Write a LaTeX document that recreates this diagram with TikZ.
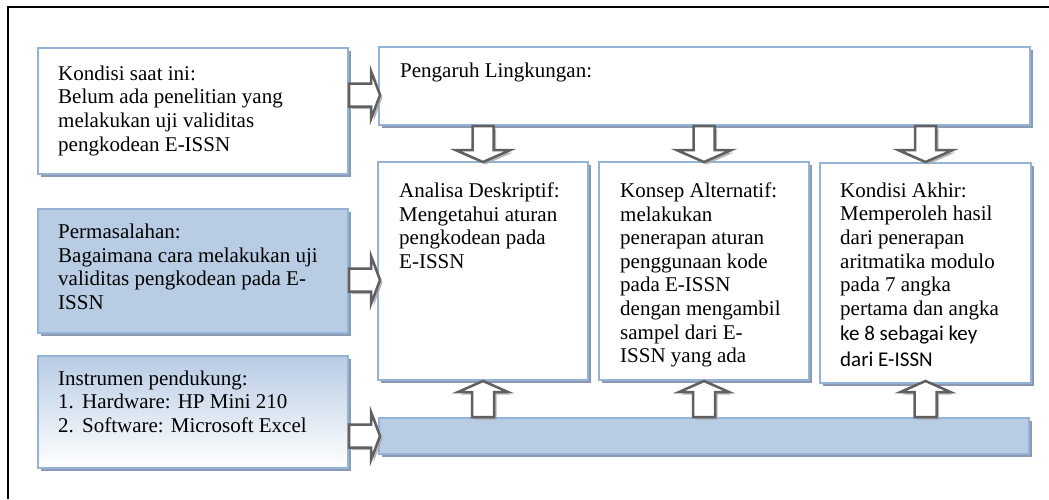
\documentclass[tikz,border=0pt]{standalone}
\usepackage{fontspec}
\setmainfont{Liberation Serif}
\newfontfamily\calibri{Carlito}
\usetikzlibrary{shadows,positioning}

\definecolor{lineblue}{RGB}{149,179,215}
\definecolor{fillblue}{RGB}{184,204,228}
\definecolor{shadeblue}{RGB}{139,154,178}
\definecolor{arrowgray}{RGB}{96,96,96}

\tikzset{
	darr/.pic={\path[blk] (-10.5,0) -- (10.5,0) -- (10.5,24) -- (27.5,24) -- (0,36) -- (-27.5,24) -- (-10.5,24) -- cycle;},
	uarr/.pic={\path[blk] (-11,0) -- (11,0) -- (11,-25) -- (25,-25) -- (0,-36) -- (-25,-25) -- (-11,-25) -- cycle;},
	rarr/.pic={\path[blk] (0,-11.5) -- (22,-11.5) -- (22,-24) -- (31,0) -- (22,24) -- (22,11.5) -- (0,11.5) -- cycle;}
}

\begin{document}
\begin{tikzpicture}[x=1pt,y=-1pt,box/.style={draw=lineblue,line width=2pt,fill=white,inner sep=0pt,anchor=north west,drop shadow={shadow xshift=3pt,shadow yshift=-3pt,fill=shadeblue,opacity=1}},txt/.style={anchor=north west,inner sep=0pt,align=left,font=\fontsize{21}{23.6}\selectfont},blk/.style={draw=arrowgray,line width=2.5pt,fill=white,line join=miter,drop shadow={shadow xshift=2.5pt,shadow yshift=-2.5pt,fill=black!35,opacity=0.8}}]

		\useasboundingbox (0,0) rectangle (1049,499);
		\draw[line width=1.5pt] (1049,7) -| (8,499);

		% left column
		\node[box,minimum width=310,minimum height=126] (kondisi) at (37,47) {};
		\node[box,fill=fillblue,minimum width=310,minimum height=124] (masalah) at (37,208) {};
		\node[box,top color=fillblue,middle color=fillblue,bottom color=white,minimum width=310,minimum height=112] (instrumen) at (37,355) {};

		% right part
		\node[box,minimum width=651,minimum height=78] (lingkungan) at (378,46) {};
		\node[box,minimum width=210,minimum height=218] (analisa) at (377,161) {};
		\node[box,minimum width=210,minimum height=218] (konsep) at (598,161) {};
		\node[box,minimum width=211,minimum height=220] (akhir) at (819,162) {};
		\node[box,fill=fillblue,minimum width=650,minimum height=36] (bar) at (378,417) {};

		\node[txt] (kondisi-t) at ([shift={(21,18.5)}]kondisi.north west) {Kondisi saat ini:\\Belum ada penelitian yang\\melakukan uji validitas\\pengkodean E-ISSN};
		\node[txt] (masalah-t) at ([shift={(21,16)}]masalah.north west) {Permasalahan:\\Bagaimana cara melakukan uji\\validitas pengkodean pada E-\\ISSN};
		\node[txt] (instrumen-t) at ([shift={(21,15.5)}]instrumen.north west) {Instrumen pendukung:\\\makebox[24pt][l]{1.}Hardware: HP Mini 210\\\makebox[24pt][l]{2.}Software: Microsoft Excel};
		\node[txt] (lingkungan-t) at ([shift={(22,16.5)}]lingkungan.north west) {Pengaruh Lingkungan:};
		\node[txt] (analisa-t) at ([shift={(22,21.5)}]analisa.north west) {Analisa Deskriptif:\\Mengetahui aturan\\pengkodean pada\\E-ISSN};
		\node[txt] (konsep-t) at ([shift={(22,21.5)}]konsep.north west) {Konsep Alternatif:\\melakukan\\penerapan aturan\\penggunaan kode\\pada E-ISSN\\dengan mengambil\\sampel dari E-\\ISSN yang ada};
		\node[txt] (akhir-t) at ([shift={(21,20.5)}]akhir.north west) {Kondisi Akhir:\\Memperoleh hasil\\dari penerapan\\aritmatika modulo\\pada 7 angka\\pertama dan angka\\[2pt]{\calibri ke 8 sebagai key}\\[2pt]{\calibri dari E-ISSN}};

		% block arrows
		\pic at (kondisi.east |- 0,95) {rarr};
		\pic at (masalah.east |- 0,280) {rarr};
		\pic at (instrumen.east |- bar.west) {rarr};

		\foreach \b in {analisa,konsep,akhir}{
			\pic at (lingkungan.south -| \b.north) {darr};
			\pic at (bar.north -| \b.south) {uarr};
		}

		;
	\end{tikzpicture}
\end{document}
